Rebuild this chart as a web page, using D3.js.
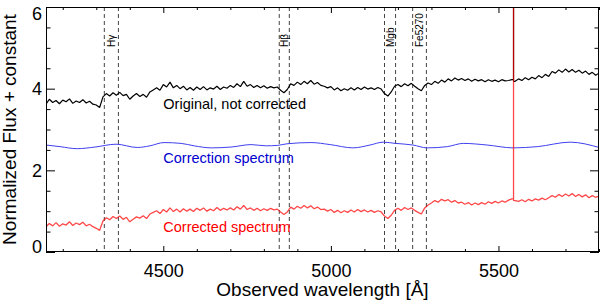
<!DOCTYPE html>
<html><head><meta charset="utf-8">
<script src="https://cdn.jsdelivr.net/npm/d3@7"></script>
<style>body{margin:0;background:#fff}svg{display:block;font-family:"Liberation Sans",Arial,Helvetica,sans-serif}</style>
</head><body><svg id="c" width="600" height="302"></svg>
<script>
// ---- data ----
const waveStart = 4150, waveStep = 10;
const original = [
3.62,3.74,3.66,3.71,3.63,3.72,3.68,3.75,3.64,3.70,
3.66,3.73,3.65,3.69,3.62,3.60,3.54,3.80,3.88,3.82,
3.90,3.84,3.91,3.83,3.86,3.74,3.82,3.88,3.81,3.86,
3.79,3.92,3.97,4.02,3.96,4.10,4.04,4.16,4.02,4.08,
4.00,4.06,3.97,4.03,3.96,4.04,3.98,4.05,3.97,4.02,
3.99,4.06,3.98,4.04,4.01,4.08,4.03,4.12,4.05,4.18,
4.06,4.10,4.03,4.08,4.02,4.07,4.01,4.05,4.02,4.04,
3.96,3.90,3.98,4.12,4.08,4.16,4.10,4.18,4.12,4.20,
4.11,4.15,4.08,4.06,4.02,4.05,3.97,4.02,3.95,4.00,
3.96,4.02,3.97,4.03,3.98,4.04,3.99,4.02,3.98,4.03,
3.99,3.88,3.82,3.92,4.06,4.10,4.05,4.12,4.07,4.13,
4.06,4.00,3.95,4.08,4.14,4.10,4.18,4.13,4.21,4.16,
4.24,4.19,4.26,4.21,4.25,4.20,4.24,4.18,4.23,4.19,
4.22,4.17,4.22,4.18,4.21,4.17,4.22,4.19,4.20,4.22,
4.18,4.24,4.20,4.27,4.22,4.28,4.24,4.32,4.27,4.35,
4.30,4.42,4.38,4.46,4.40,4.48,4.41,4.47,4.40,4.45,
4.38,4.43,4.35,4.40,4.33,4.38];
const corrected = [
0.62,0.70,0.64,0.72,0.63,0.69,0.66,0.74,0.65,0.71,
0.67,0.73,0.64,0.68,0.62,0.58,0.53,0.76,0.84,0.79,
0.87,0.82,0.88,0.80,0.85,0.74,0.80,0.86,0.83,0.89,
0.82,0.93,0.97,1.01,0.94,1.04,0.98,1.08,0.99,1.05,
0.98,1.06,1.00,1.05,0.99,1.07,1.02,1.08,1.00,1.05,
1.01,1.09,1.02,1.07,1.03,1.08,1.03,1.11,1.05,1.14,
1.04,1.08,1.02,1.07,1.01,1.06,1.02,1.07,1.03,1.05,
0.98,0.92,0.98,1.10,1.05,1.12,1.07,1.14,1.08,1.13,
1.06,1.10,1.04,1.05,1.00,1.04,0.97,1.02,0.96,1.01,
0.97,1.03,0.98,1.04,0.99,1.03,0.98,1.02,0.97,1.01,
0.98,0.88,0.82,0.90,1.02,1.07,1.02,1.09,1.04,1.08,
1.02,0.97,0.93,1.08,1.15,1.20,1.26,1.22,1.29,1.25,
1.28,1.22,1.26,1.20,1.22,1.17,1.21,1.15,1.20,1.16,
1.21,1.17,1.23,1.19,1.24,1.20,1.25,1.22,1.27,1.30,
1.26,1.24,1.28,1.23,1.29,1.25,1.30,1.27,1.32,1.28,
1.33,1.38,1.34,1.41,1.36,1.42,1.37,1.43,1.36,1.41,
1.35,1.40,1.33,1.38,1.34,1.37];
const correctionWave = [4150,4192,4243,4296,4359,4422,4460,4502,4553,4592,4643,4702,4762,4807,4840,4869,4941,4998,5066,5117,5156,5192,5245,5287,5347,5395,5466,5544,5616,5714,5804];
const correction     = [2.62,2.58,2.53,2.57,2.64,2.56,2.60,2.68,2.66,2.60,2.55,2.57,2.63,2.60,2.61,2.65,2.68,2.63,2.55,2.62,2.69,2.66,2.62,2.55,2.58,2.66,2.62,2.55,2.58,2.69,2.55];
const spikeWave = 5545, spikeOriginal = 7.5, spikeCorrected = 7.5;
const linePairs = [[4324,4366],[4846,4876],[5160,5193],[5244,5285]];
const lineNames = ["Hγ","Hβ","Mgb","Fe5270"];
const xTicks = [4500,5000,5500];
const yTicks = [0,2,4,6];
const seriesNames = ["Original, not corrected","Correction spectrum","Corrected spectrum"];
const xLabel = "Observed wavelength [Å]";
const yLabel = "Normalized Flux + constant";

// ---- layout ----
const L = 46, R = 599, T = 7, B = 252;
const svg = d3.select("#c");
const x = d3.scaleLinear().domain([4150,5800]).range([L,R]);
const y = d3.scaleLinear().domain([0,6]).range([B,T]);

svg.append("defs").append("clipPath").attr("id","clip")
  .append("rect").attr("x",L).attr("y",T).attr("width",R-L).attr("height",B-T);

// spectrum points with a narrow residual spike (vertical)
function withSpike(vals, sv){
  const pts = vals.map((v,i)=>[waveStart+i*waveStep, v]);
  const k = pts.findIndex(p=>p[0]>spikeWave);
  const base = pts[k-1][1];
  pts.splice(k,0,[spikeWave, base],[spikeWave, sv],[spikeWave, pts[k][1]]);
  return pts;
}
const line = d3.line().x(d=>x(d[0])).y(d=>y(d[1]));
const g = svg.append("g").attr("clip-path","url(#clip)");

// dashed lines
linePairs.flat().forEach(w=>{
  g.append("line").attr("x1",x(w)).attr("x2",x(w)).attr("y1",T).attr("y2",B)
   .attr("stroke","#444").attr("stroke-width",1).attr("stroke-dasharray","4,3");
});

g.append("path").datum(withSpike(original, spikeOriginal)).attr("d",line)
  .attr("fill","none").attr("stroke","#000").attr("stroke-width",1.2).attr("stroke-linejoin","bevel");
g.append("path").datum(correctionWave.map((w,i)=>[w,correction[i]]))
  .attr("d",d3.line().x(d=>x(d[0])).y(d=>y(d[1])).curve(d3.curveMonotoneX))
  .attr("fill","none").attr("stroke","#4040f0").attr("stroke-width",1);
g.append("path").datum(withSpike(corrected, spikeCorrected)).attr("d",line)
  .attr("fill","none").attr("stroke","#ff0000").attr("stroke-width",1.3).attr("stroke-opacity",0.72)
  .attr("stroke-linejoin","bevel");

// line labels
linePairs.forEach((p,i)=>{
  const cx = x((p[0]+p[1])/2);
  svg.append("text").attr("transform",`translate(${cx},47) rotate(-90)`)
    .attr("dy","0.35em").attr("font-size",10).attr("fill","#000").text(lineNames[i]);
});

// series labels
const sx = x(4500);
svg.append("text").attr("x",sx).attr("y",109).attr("font-size",14.5).attr("fill","#000").text(seriesNames[0]);
svg.append("text").attr("x",sx).attr("y",163).attr("font-size",14.5).attr("fill","#0000d0").text(seriesNames[1]);
svg.append("text").attr("x",sx).attr("y",232).attr("font-size",14.5).attr("fill","#ff0000").text(seriesNames[2]);

// axes
const xMinor = d3.range(4200,5801,100).filter(v=>!xTicks.includes(v));
const yMinor = d3.range(0.5,6,0.5).filter(v=>!yTicks.includes(v));
function styleAxis(sel){ sel.select(".domain").remove(); sel.selectAll("line").attr("stroke","#000"); }

svg.append("g").attr("transform",`translate(0,${B})`)
  .call(d3.axisBottom(x).tickValues(xTicks).tickSizeInner(-6).tickSizeOuter(0).tickPadding(12).tickFormat(d3.format("d")))
  .call(styleAxis).selectAll("text").attr("font-size",18).attr("fill","#000").attr("font-family",null);
svg.append("g").attr("transform",`translate(0,${B})`)
  .call(d3.axisBottom(x).tickValues(xMinor).tickSize(-3).tickFormat("")).call(styleAxis);
svg.append("g").attr("transform",`translate(0,${T})`)
  .call(d3.axisTop(x).tickValues(xTicks).tickSize(-6).tickFormat("")).call(styleAxis);
svg.append("g").attr("transform",`translate(0,${T})`)
  .call(d3.axisTop(x).tickValues(xMinor).tickSize(-3).tickFormat("")).call(styleAxis);

const yl = svg.append("g").attr("transform",`translate(${L},0)`)
  .call(d3.axisLeft(y).tickValues(yTicks).tickSizeInner(-9).tickSizeOuter(0).tickPadding(4).tickFormat(d3.format("d")))
  .call(styleAxis);
yl.selectAll("text").attr("font-size",18).attr("fill","#000").attr("font-family",null)
  .attr("dy",d=> d===6 ? "0.71em" : d===0 ? "0em" : "0.35em");
svg.append("g").attr("transform",`translate(${L},0)`)
  .call(d3.axisLeft(y).tickValues(yMinor).tickSize(-4.5).tickFormat("")).call(styleAxis);
svg.append("g").attr("transform",`translate(${R},0)`)
  .call(d3.axisRight(y).tickValues(yTicks).tickSize(-9).tickFormat("")).call(styleAxis);
svg.append("g").attr("transform",`translate(${R},0)`)
  .call(d3.axisRight(y).tickValues(yMinor).tickSize(-4.5).tickFormat("")).call(styleAxis);

// frame
svg.append("rect").attr("x",L+0.5).attr("y",T+0.5).attr("width",R-L-1).attr("height",B-T-1)
  .attr("fill","none").attr("stroke","#000").attr("stroke-width",1);

// axis titles
svg.append("text").attr("x",(L+R)/2).attr("y",296).attr("text-anchor","middle")
  .attr("font-size",19).attr("fill","#000").text(xLabel);
svg.append("text").attr("transform",`translate(16,${(T+B)/2}) rotate(-90)`).attr("text-anchor","middle")
  .attr("font-size",19).attr("fill","#000").text(yLabel);
</script></body></html>
